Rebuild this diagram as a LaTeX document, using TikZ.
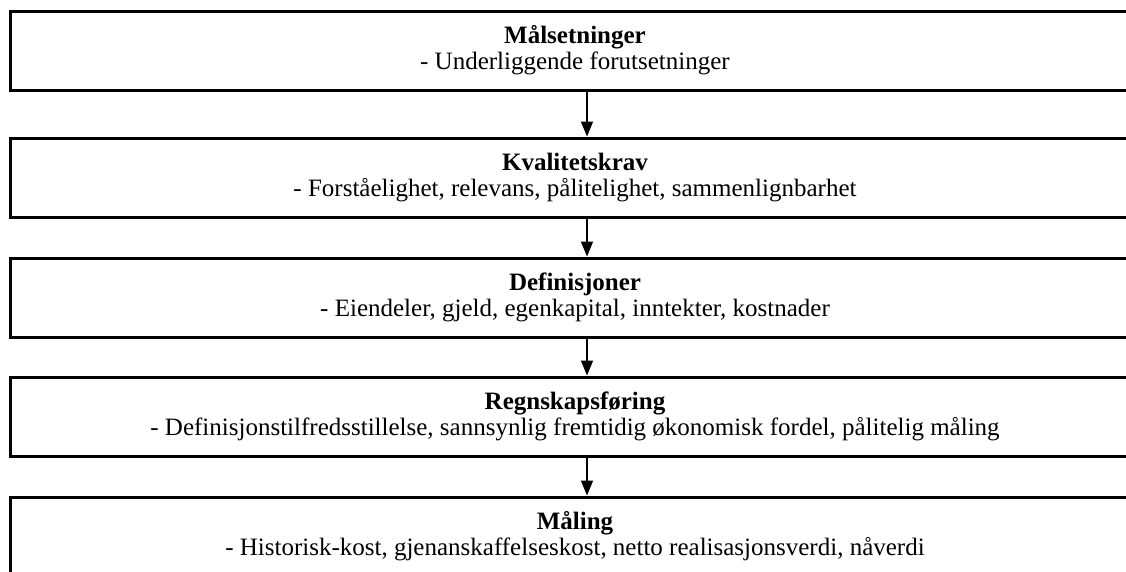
\documentclass[tikz,border=0pt]{standalone}
\usepackage{fontspec}
\setmainfont{Liberation Serif}
\usetikzlibrary{arrows.meta, positioning}

\begin{document}
\begin{tikzpicture}[x=1pt, y=-1pt,
    stage/.style={draw, line width=3pt, minimum width=1130pt, minimum height=79pt,
        align=center, inner sep=0pt, font=\fontsize{25}{26}\selectfont,
        execute at begin node={\rule{0pt}{26.5pt}}},
    flow/.style={-{Triangle[width=12pt, length=15pt]}, line width=1.5pt}]

    \useasboundingbox (0,0) rectangle (1126,571);

    \node[stage] (maal) at (575,50.5) {\textbf{Målsetninger}\\- Underliggende forutsetninger};
    \node[stage, below=45pt of maal] (krav) {\textbf{Kvalitetskrav}\\- Forståelighet, relevans, pålitelighet, sammenlignbarhet};
    \node[stage, below=38pt of krav] (def) {\textbf{Definisjoner}\\- Eiendeler, gjeld, egenkapital, inntekter, kostnader};
    \node[stage, below=37pt of def] (fore) {\textbf{Regnskapsføring}\\- Definisjonstilfredsstillelse, sannsynlig fremtidig økonomisk fordel, pålitelig måling};
    \node[stage, below=38pt of fore] (maling) {\textbf{Måling}\\- Historisk-kost, gjenanskaffelseskost, netto realisasjonsverdi, nåverdi};

    % arrows sit a little right of the box centre
    \draw[flow] ([xshift=12pt]maal.south) -- ([xshift=12pt]krav.north);
    \draw[flow] ([xshift=12pt]krav.south) -- ([xshift=12pt]def.north);
    \draw[flow] ([xshift=12pt]def.south) -- ([xshift=12pt]fore.north);
    \draw[flow] ([xshift=12pt]fore.south) -- ([xshift=12pt]maling.north);

\end{tikzpicture}
\end{document}
